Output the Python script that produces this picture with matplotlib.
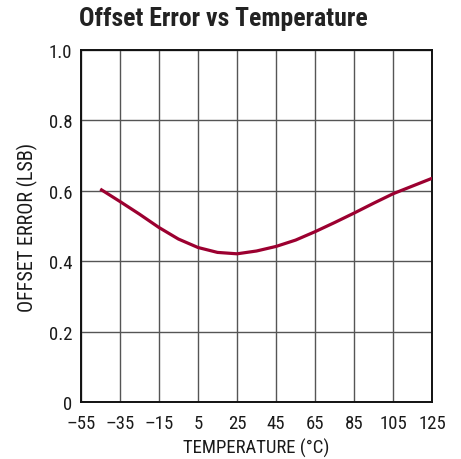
import matplotlib.pyplot as plt

plt.rcParams["font.family"] = ["Roboto Condensed", "Archivo Narrow", "DejaVu Sans"]

TEMPS = [-45, -35, -25, -15, -5, 5, 15, 25, 35, 45, 55, 65, 75, 85, 95, 105, 115, 125]
OFFSET_ERR = [0.605, 0.570, 0.534, 0.496, 0.463, 0.439, 0.425, 0.421, 0.429, 0.442,
              0.460, 0.484, 0.510, 0.537, 0.565, 0.592, 0.614, 0.636]

X_TICKS = [-55, -35, -15, 5, 25, 45, 65, 85, 105, 125]
X_LABELS = ["\u201355", "\u201335", "\u201315", "5", "25", "45", "65", "85", "105", "125"]
Y_TICKS = [0, 0.2, 0.4, 0.6, 0.8, 1.0]
Y_LABELS = ["0", "0.2", "0.4", "0.6", "0.8", "1.0"]


def main() -> None:
    fig = plt.figure(figsize=(4.61, 4.60), dpi=100)
    ax = fig.add_axes([0.175, 0.124, 0.763, 0.765])

    ax.plot(TEMPS, OFFSET_ERR, color="#9c0030", linewidth=2.3, solid_capstyle="butt", zorder=3)

    ax.set_xlim(-55, 125)
    ax.set_ylim(0, 1.0)
    ax.set_xticks(X_TICKS)
    ax.set_xticklabels(X_LABELS)
    ax.set_yticks(Y_TICKS)
    ax.set_yticklabels(Y_LABELS)
    ax.tick_params(length=0, labelsize=13.5, colors="#1a1a1a")
    ax.tick_params(axis="x", pad=8.5)
    ax.tick_params(axis="y", pad=6)
    ax.grid(True, color="#555555", linewidth=1.0)
    for spine in ax.spines.values():
        spine.set_linewidth(1.4)
        spine.set_color("#111111")

    ax.set_xlabel("TEMPERATURE (\u00b0C)", fontsize=13.5, labelpad=4.5, color="#1a1a1a")
    ax.set_ylabel("OFFSET ERROR (LSB)", fontsize=14.5, labelpad=8, color="#1a1a1a")

    fig.text(0.172, 0.959, "Offset Error vs Temperature", fontsize=18.5, fontweight="bold",
             ha="left", va="center", color="#222222")

    fig.savefig("out.png", dpi=100)
    plt.close(fig)


if __name__ == "__main__":
    main()
